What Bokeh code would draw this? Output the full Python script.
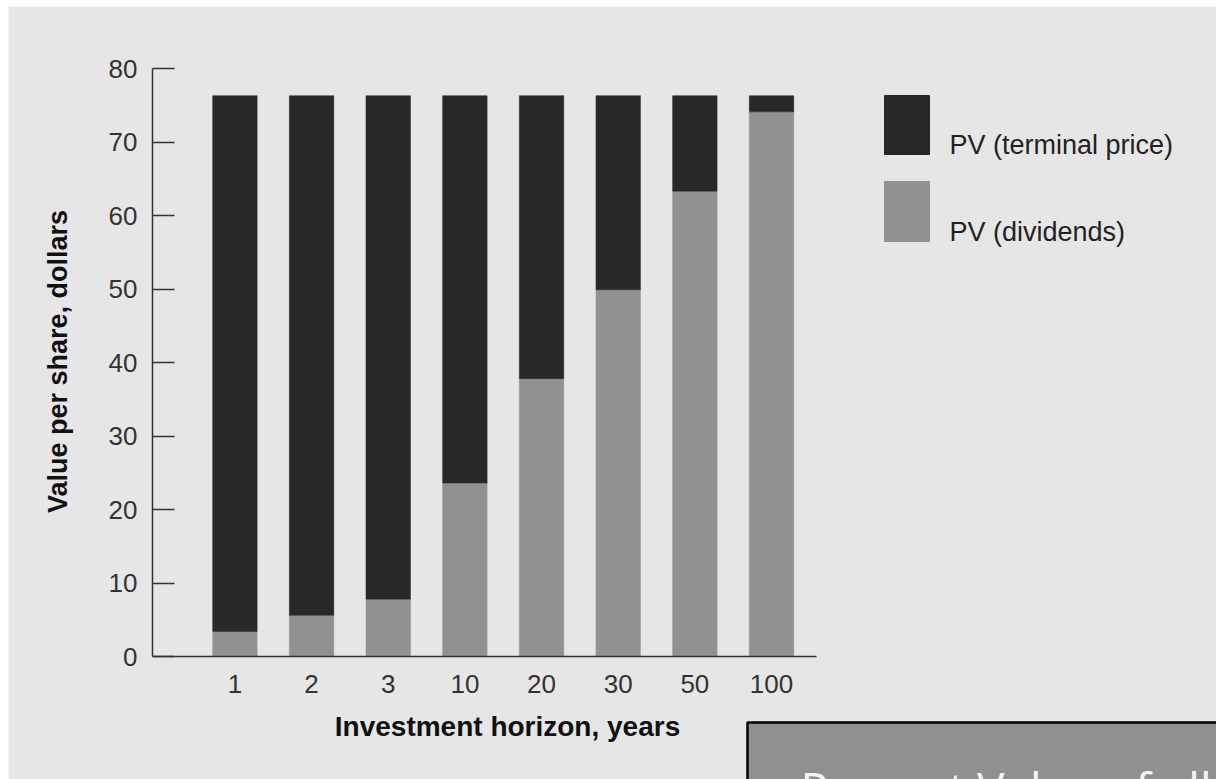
import math
from bokeh.plotting import figure
from bokeh.models import FixedTicker, Label, BoxAnnotation, ColumnDataSource
from bokeh.embed import file_html
from bokeh.resources import INLINE

horizons = ["1", "2", "3", "10", "20", "30", "50", "100"]
pv_dividends = [3.4, 5.6, 7.8, 23.6, 37.8, 49.9, 63.3, 74.1]
share_price = [76.3, 76.3, 76.3, 76.3, 76.3, 76.3, 76.3, 76.3]
pv_terminal = [round(t - d, 2) for t, d in zip(share_price, pv_dividends)]
y_ticks = [0, 10, 20, 30, 40, 50, 60, 70, 80]
series_labels = ["PV (terminal price)", "PV (dividends)"]

DARK = "#282828"
GRAY = "#919191"
BG = "#e6e6e6"
FONT = "Liberation Sans"

# layout geometry (page pixels)
CANVAS_L, CANVAS_T, CANVAS_R, CANVAS_B = 8, 6, 1216, 779
PLOT_L, PLOT_T, PLOT_R, AXIS_Y_PX = 152, 68, 816, 656
PX_PER_X = 76.66          # pixels per category step
PX_PER_Y = (AXIS_Y_PX - PLOT_T) / 80.0
X_START = -1.075
TEXT_SHIFT = 10           # renderer places alphabetic baselines ~10px low at 27px


def xd(px):
    return X_START + (px - PLOT_L) / PX_PER_X


def yd(py):
    return (AXIS_Y_PX - py) / PX_PER_Y


xs = list(range(len(horizons)))
src = ColumnDataSource(dict(x=xs, div=pv_dividends, term=pv_terminal))

p = figure(width=CANVAS_R - CANVAS_L, height=CANVAS_B - CANVAS_T,
           output_backend="svg", toolbar_location=None,
           x_range=(xd(CANVAS_L), xd(CANVAS_R)), y_range=(yd(CANVAS_B), yd(CANVAS_T)),
           min_border=0)
p.margin = (CANVAS_T, 0, 0, CANVAS_L)
p.background_fill_color = BG
p.border_fill_color = BG
p.outline_line_color = None
p.grid.visible = False

rs = p.vbar_stack(["div", "term"], x="x", width=0.58, source=src,
                  color=[GRAY, DARK], line_color=[GRAY, DARK], line_width=0.5)

# axes (drawn at fixed data locations, bounded to the plot area)
p.xaxis.ticker = FixedTicker(ticks=xs)
p.xaxis.major_label_overrides = {i: h for i, h in zip(xs, horizons)}
p.xaxis.fixed_location = 0
p.xaxis.bounds = (X_START, xd(PLOT_R))
p.yaxis.ticker = FixedTicker(ticks=y_ticks)
p.yaxis.fixed_location = X_START
p.yaxis.bounds = (0, 80)
for ax in (p.xaxis[0], p.yaxis[0]):
    ax.axis_line_color = "#333333"
    ax.axis_line_width = 1.5
    ax.minor_tick_line_color = None
    ax.major_label_text_font = FONT
    ax.major_label_text_font_size = "26px"
    ax.major_label_text_color = "#333333"
p.xaxis.major_tick_line_color = None
p.xaxis.major_tick_in = 0
p.xaxis.major_tick_out = 0
p.xaxis.major_label_standoff = 18
p.yaxis.major_tick_line_color = "#333333"
p.yaxis.major_tick_line_width = 1.5
p.yaxis.major_tick_in = 22
p.yaxis.major_tick_out = 0
p.yaxis.major_label_standoff = 15

# axis titles
p.add_layout(Label(x=xd(507), y=yd(736 - TEXT_SHIFT), text="Investment horizon, years",
                   text_font=FONT, text_font_size="28px", text_font_style="bold",
                   text_color="#111111", text_align="center", text_baseline="alphabetic"))
p.add_layout(Label(x=xd(67 - TEXT_SHIFT), y=yd(361), text="Value per share, dollars",
                   angle=math.pi / 2, text_font=FONT, text_font_size="27px",
                   text_font_style="bold", text_color="#111111",
                   text_align="center", text_baseline="alphabetic"))

# legend (swatches + labels)
swatches = [(DARK, 95, 154), (GRAY, 181, 241)]
for (col, top, bot), lab in zip(swatches, series_labels):
    p.add_layout(BoxAnnotation(left=xd(884), right=xd(929), top=yd(top), bottom=yd(bot),
                               fill_color=col, fill_alpha=1.0, line_color=col, line_alpha=1.0,
                               line_width=1))
    p.add_layout(Label(x=xd(949), y=yd(bot - TEXT_SHIFT), text=lab, text_font=FONT,
                       text_font_size="27px", text_color="#222222",
                       text_align="left", text_baseline="alphabetic"))

# caption box cut by the bottom-right corner
p.add_layout(BoxAnnotation(left=xd(747), top=yd(722), right=xd(CANVAS_R + 20),
                           bottom=yd(CANVAS_B + 20), fill_color="#909090", fill_alpha=1.0,
                           line_color="#000000", line_alpha=1.0, line_width=2.5,
                           level="underlay"))
p.add_layout(Label(x=xd(800), y=yd(787), text="Present Value of all",
                   text_font="Open Sans", text_font_size="46px", text_color="#f4f4f4",
                   text_baseline="alphabetic", text_align="left", level="overlay"))

open("out.html", "w").write(file_html(p, INLINE))
